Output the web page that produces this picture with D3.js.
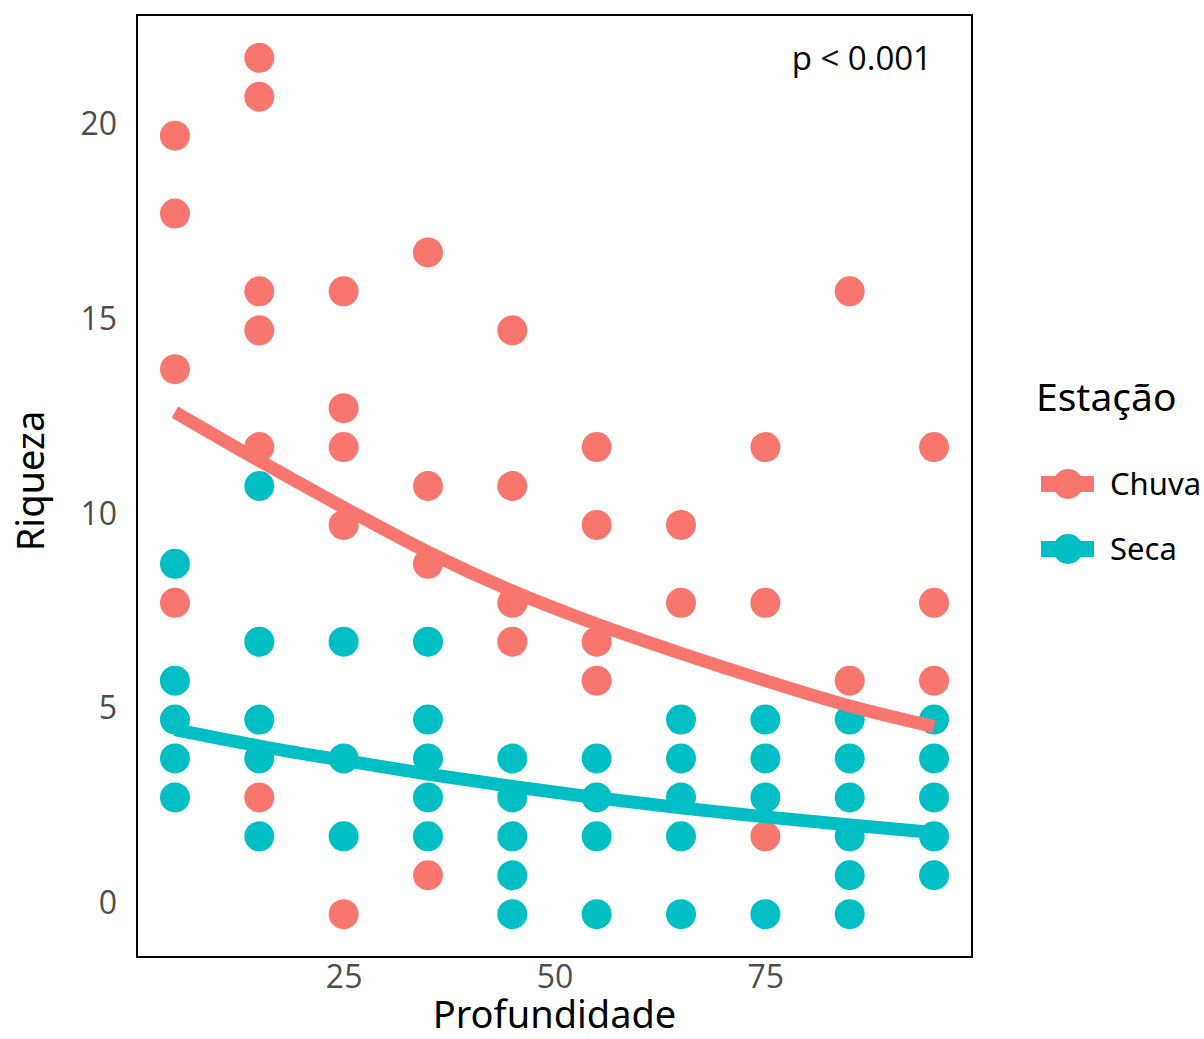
<!DOCTYPE html>
<html>
<head>
<meta charset="utf-8">
<script src="https://cdn.jsdelivr.net/npm/d3@7"></script>
<style>
  body { margin: 0; background: #fff; }
  svg { display: block; font-family: "Noto Sans", "Open Sans", sans-serif; }
</style>
</head>
<body>
<script>
// Chuva (rainy season) observations
var chuvaProf    = [5, 5, 5, 5, 15, 15, 15, 15, 15, 15, 25, 25, 25, 25, 25, 35, 35, 35, 35, 45, 45, 45, 45, 55, 55, 55, 55, 65, 65, 75, 75, 75, 85, 85, 95, 95, 95];
var chuvaRiqueza = [20, 18, 14, 8, 22, 21, 16, 15, 12, 3, 16, 13, 12, 10, 0, 17, 11, 9, 1, 15, 11, 8, 7, 12, 10, 7, 6, 10, 8, 12, 8, 2, 16, 6, 12, 8, 6];

// Seca (dry season) observations
var secaProf    = [5, 5, 5, 5, 5, 15, 15, 15, 15, 15, 25, 25, 25, 35, 35, 35, 35, 35, 45, 45, 45, 45, 45, 55, 55, 55, 55, 65, 65, 65, 65, 65, 75, 75, 75, 75, 85, 85, 85, 85, 85, 85, 95, 95, 95, 95, 95];
var secaRiqueza = [9, 6, 5, 4, 3, 11, 7, 5, 4, 2, 7, 4, 2, 7, 5, 4, 3, 2, 4, 3, 2, 1, 0, 4, 3, 2, 0, 5, 4, 3, 2, 0, 5, 4, 3, 0, 5, 4, 3, 2, 1, 0, 5, 4, 3, 2, 1];

// fitted curves
var fitProf  = [5, 15, 25, 35, 45, 55, 65, 75, 85, 95];
var fitChuva = [12.9, 11.65, 10.45, 9.3, 8.3, 7.45, 6.7, 6.0, 5.35, 4.82];
var fitSeca  = [4.74, 4.32, 3.95, 3.6, 3.28, 2.99, 2.73, 2.5, 2.29, 2.1];

var xTicks = [25, 50, 75];
var yTicks = [0, 5, 10, 15, 20];
var series = ["Chuva", "Seca"];
var colors = ["#F8766D", "#00BFC4"];

var W = 1204, H = 1039;
var panel = {left: 137, right: 972, top: 15, bottom: 957};

var svg = d3.select(document.body).append('svg')
    .attr('width', W).attr('height', H);

var x = d3.scaleLinear().domain([0.5, 99.5]).range([panel.left, panel.right]);
var y = d3.scaleLinear().domain([-1.1, 23.1]).range([panel.bottom, panel.top]);
var color = d3.scaleOrdinal().domain(series).range(colors);

// axes
var yAxis = svg.append('g')
    .attr('transform', 'translate(' + panel.left + ',0)')
    .call(d3.axisLeft(y).tickValues(yTicks).tickSize(0).tickPadding(20));
yAxis.select('.domain').remove();
yAxis.selectAll('text')
    .attr('y', -11)
    .style('font-size', '32px')
    .style('font-family', '"Open Sans", sans-serif')
    .attr('fill', '#4d4d4d');

var xAxis = svg.append('g')
    .attr('transform', 'translate(0,' + panel.bottom + ')')
    .call(d3.axisBottom(x).tickValues(xTicks).tickSize(0).tickPadding(8));
xAxis.select('.domain').remove();
xAxis.selectAll('text')
    .style('font-size', '32px')
    .style('font-family', '"Open Sans", sans-serif')
    .attr('fill', '#4d4d4d');

// points
var chuvaPts = chuvaProf.map(function(d, i){ return {x: d, y: chuvaRiqueza[i]}; });
var secaPts = secaProf.map(function(d, i){ return {x: d, y: secaRiqueza[i]}; });

svg.append('g').selectAll('circle').data(chuvaPts).enter()
    .append('circle')
    .attr('cx', function(d){ return x(d.x); })
    .attr('cy', function(d){ return y(d.y); })
    .attr('r', 15)
    .style('fill', color('Chuva'));

svg.append('g').selectAll('circle').data(secaPts).enter()
    .append('circle')
    .attr('cx', function(d){ return x(d.x); })
    .attr('cy', function(d){ return y(d.y); })
    .attr('r', 15)
    .style('fill', color('Seca'));

// fitted lines
var line = d3.line()
    .x(function(d){ return x(d[0]); })
    .y(function(d){ return y(d[1]); })
    .curve(d3.curveMonotoneX);

[fitChuva, fitSeca].forEach(function(vals, k){
    svg.append('path')
        .datum(fitProf.map(function(p, i){ return [p, vals[i]]; }))
        .attr('d', line)
        .attr('fill', 'none')
        .attr('stroke', colors[k])
        .attr('stroke-width', 13);
});

// panel border
svg.append('rect')
    .attr('x', panel.left).attr('y', panel.top)
    .attr('width', panel.right - panel.left)
    .attr('height', panel.bottom - panel.top)
    .attr('fill', 'none')
    .attr('stroke', '#000')
    .attr('stroke-width', 2);

// annotation
svg.append('text')
    .attr('x', 932).attr('y', 70)
    .attr('text-anchor', 'end')
    .style('font-size', '33px')
    .style('font-family', '"Open Sans", sans-serif')
    .text('p < 0.001');

// axis titles
svg.append('text')
    .attr('x', (panel.left + panel.right) / 2).attr('y', 1028)
    .attr('text-anchor', 'middle')
    .style('font-size', '38px')
    .text('Profundidade');

svg.append('text')
    .attr('transform', 'translate(44,' + 481 + ') rotate(-90)')
    .attr('text-anchor', 'middle')
    .style('font-size', '38px')
    .text('Riqueza');

// legend
var legend = svg.append('g');
legend.append('text')
    .attr('x', 1036).attr('y', 411)
    .style('font-size', '39px')
    .text('Estação');

series.forEach(function(s, i){
    var cy = 484 + i * 65;
    legend.append('rect')
        .attr('x', 1041).attr('y', cy - 8)
        .attr('width', 53).attr('height', 16)
        .style('fill', color(s));
    legend.append('circle')
        .attr('cx', 1068).attr('cy', cy).attr('r', 15)
        .style('fill', color(s));
    legend.append('text')
        .attr('x', 1110).attr('y', cy)
        .attr('dy', '0.35em')
        .style('font-size', '31px')
        .text(s);
});
</script>
</body>
</html>
